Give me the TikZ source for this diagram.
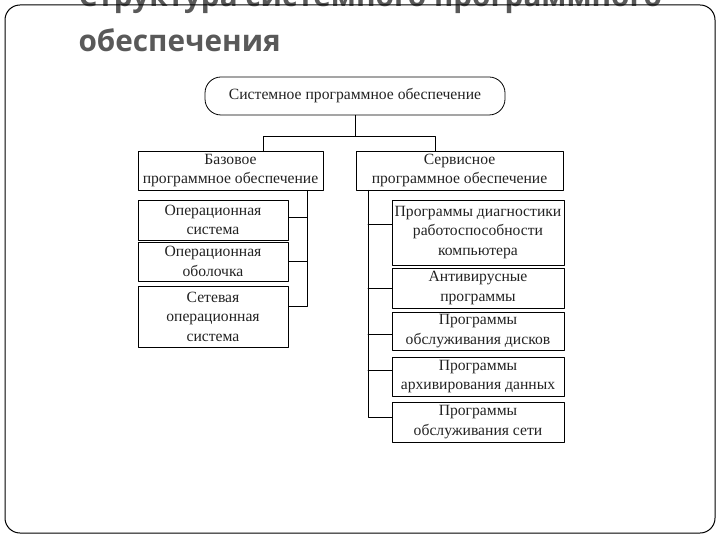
\documentclass[tikz,border=0pt]{standalone}
\usepackage{fontspec}
\setmainfont{Liberation Serif}
\newfontfamily\titlefont{Open Sans}
\usepackage{xcolor}
\definecolor{titlegray}{HTML}{595959}
\definecolor{boxtext}{HTML}{222222}
\tikzset{
  every picture/.style={line join=round, line cap=round},
  box/.style={draw, line width=0.8bp, align=center, inner sep=1bp, text=boxtext,
    font=\fontsize{15.7}{19.5}\selectfont},
  lchild/.style={box, minimum width=150bp},
  rchild/.style={box, minimum width=172bp},
  link/.style={line width=0.8bp},
  caption/.style={anchor=base west, text=titlegray,
    font=\titlefont\bfseries\fontsize{29.8}{40}\selectfont},
}

\begin{document}
\begin{tikzpicture}[x=1bp,y=-1bp]
\useasboundingbox (0,0) rectangle (720,540);
% title and frame
\node[caption] (t1) at (75,7) {Структура системного программного};
\node[caption] (t2) at (75,52) {обеспечения};
\draw[line width=1bp, rounded corners=15bp] (5,5) rectangle (715,533);

% top levels
\node[box, rounded corners=16bp, minimum width=300bp, minimum height=38bp] (spo) at (355,96) {Системное программное обеспечение};
\node[box, minimum width=185bp, minimum height=39bp] (base) at (230.5,170.5) {Базовое\\программное обеспечение};
\node[box, minimum width=207bp, minimum height=39bp] (serv) at (459.5,170.5) {Сервисное\\программное обеспечение};

% base software
\node[lchild, minimum height=40bp] (os) at (213,220) {Операционная\\система};
\node[lchild, minimum height=39bp] (shell) at (213,261.5) {Операционная\\оболочка};
\node[lchild, minimum height=61bp] (netos) at (213,316.5) {Сетевая\\операционная\\система};

% service software
\node[rchild, minimum height=65bp] (diag) at (478,232.5) {Программы диагностики\\работоспособности\\компьютера};
\node[rchild, minimum height=40bp] (av) at (478,288) {Антивирусные\\программы};
\node[rchild, minimum height=38bp] (disk) at (478,331) {Программы\\обслуживания дисков};
\node[rchild, minimum height=39bp] (arch) at (478,376.5) {Программы\\архивирования данных};
\node[rchild, minimum height=40bp] (net) at (478,422) {Программы\\обслуживания сети};

% connectors
\coordinate (jl) at (263,136);
\coordinate (jr) at (435,136);
\coordinate (tl) at (307,0);
\coordinate (tr) at (368,0);
\draw[link] (spo.south) -- (spo.south |- jl);
\draw[link] (base.north -| jl) -- (jl) -- (jr) -- (serv.north -| jr);

% branch points on the boxes
\coordinate (osb) at ([yshift=3bp]os.east);
\coordinate (netosb) at ([yshift=10bp]netos.east);
\coordinate (diagb) at ([yshift=8bp]diag.west);
\coordinate (diskb) at ([yshift=-3bp]disk.west);
\coordinate (archb) at ([yshift=6bp]arch.west);
\coordinate (netb) at ([yshift=5bp]net.west);

\draw[link] (base.south -| tl) |- (netosb);
\draw[link] (osb -| tl) -- (osb);
\draw[link] (shell.east -| tl) -- (shell.east);

\draw[link] (serv.south -| tr) |- (netb);
\draw[link] (diagb -| tr) -- (diagb);
\draw[link] (av.west -| tr) -- (av.west);
\draw[link] (diskb -| tr) -- (diskb);
\draw[link] (archb -| tr) -- (archb);
\end{tikzpicture}
\end{document}
